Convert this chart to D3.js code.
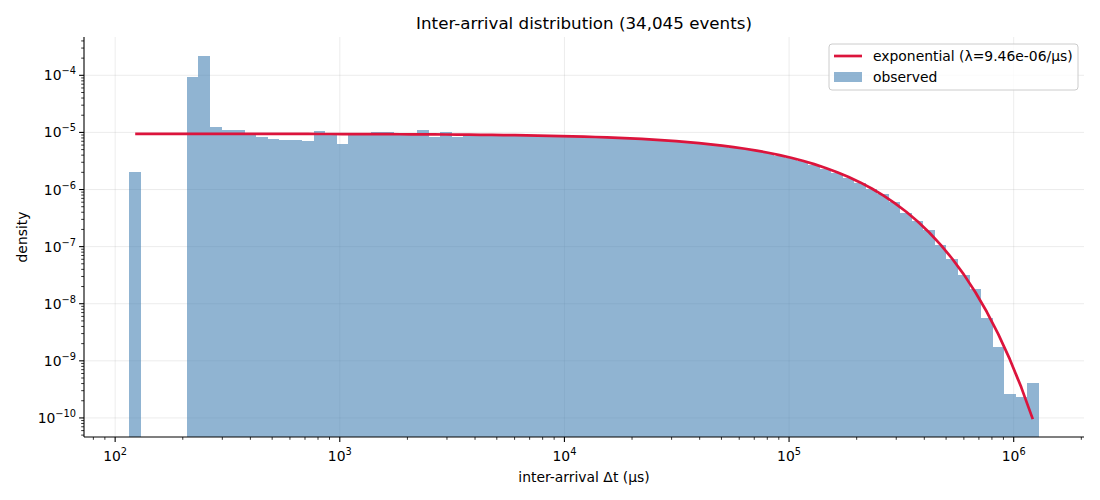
<!DOCTYPE html>
<html>
<head>
<meta charset="utf-8">
<script src="https://cdn.jsdelivr.net/npm/d3@7"></script>
<style>
  body { margin: 0; background: #fff; }
  svg { font-family: "DejaVu Sans", sans-serif; }
</style>
</head>
<body>
<svg id="chart" width="1100" height="500"></svg>
<script>
// ---------------- data ----------------
const titleText = "Inter-arrival distribution (34,045 events)";
const xLabel = "inter-arrival Δt (μs)";
const yLabel = "density";
const lambda = 9.46e-6;            // fitted rate (per μs)
const binLow = 115.8;              // first bin edge (μs)
const binHigh = 1.29e6;            // last bin edge (μs)
const nBins = 79;                  // log-spaced bins
const observed = [
  2.03e-6, 0, 0, 0, 0, 9.3e-5, 2.18e-4, 1.24e-5, 1.10e-5, 1.10e-5,
  9.3e-6, 8.3e-6, 7.7e-6, 7.4e-6, 7.4e-6, 7.1e-6, 1.06e-5, 9.6e-6, 6.3e-6, 8.9e-6,
  8.9e-6, 1.01e-5, 1.01e-5, 9.2e-6, 9.2e-6, 1.10e-5, 8.4e-6, 1.01e-5, 8.4e-6, 8.9e-6,
  8.9e-6, 8.85e-6, 8.8e-6, 8.8e-6, 8.7e-6, 8.6e-6, 8.5e-6, 8.45e-6, 8.35e-6, 8.25e-6,
  8.15e-6, 8.0e-6, 7.85e-6, 7.7e-6, 7.5e-6, 7.3e-6, 7.1e-6, 6.85e-6, 6.6e-6, 6.35e-6,
  6.05e-6, 5.75e-6, 5.4e-6, 5.05e-6, 4.7e-6, 4.3e-6, 3.9e-6, 3.5e-6, 3.1e-6, 2.72e-6,
  2.33e-6, 1.96e-6, 1.62e-6, 1.30e-6, 1.02e-6, 8.3e-7, 6.0e-7, 3.93e-7, 2.84e-7, 1.95e-7,
  1.07e-7, 6.1e-8, 3.2e-8, 1.8e-8, 5.7e-9, 1.77e-9, 2.6e-10, 2.35e-10, 4.1e-10
];
const xTickExps = [2, 3, 4, 5, 6];
const yTickExps = [-4, -5, -6, -7, -8, -9, -10];
const legendLabels = ["exponential (λ=9.46e-06/μs)", "observed"];

// ---------------- layout ----------------
const M = { left: 84, top: 37, width: 1000, height: 400 };
const svg = d3.select("#chart");

// bin edges (log spaced) and geometric centres
const lLo = Math.log10(binLow), lHi = Math.log10(binHigh);
const edges = d3.range(nBins + 1).map(i => Math.pow(10, lLo + (lHi - lLo) * i / nBins));
const bins = observed.map((v, i) => ({ x0: edges[i], x1: edges[i + 1], v }));
const centers = bins.map(b => Math.sqrt(b.x0 * b.x1));
const model = centers.map(c => ({ t: c, d: lambda * Math.exp(-lambda * c) }));

const span = lHi - lLo;
const x = d3.scaleLog()
  .domain([Math.pow(10, lLo - 0.05 * span), Math.pow(10, lHi + 0.05 * span)])
  .range([M.left, M.left + M.width]);
const y = d3.scaleLog()
  .domain([Math.pow(10, -10.334), Math.pow(10, -3.329)])
  .range([M.top + M.height, M.top]);

const bottom = M.top + M.height;

// grid
const gGrid = svg.append("g");
xTickExps.forEach(e => {
  gGrid.append("line")
    .attr("x1", x(Math.pow(10, e))).attr("x2", x(Math.pow(10, e)))
    .attr("y1", M.top).attr("y2", bottom)
    .attr("stroke", "#b0b0b0").attr("stroke-opacity", 0.3).attr("stroke-width", 0.8);
});
yTickExps.forEach(e => {
  gGrid.append("line")
    .attr("x1", M.left).attr("x2", M.left + M.width)
    .attr("y1", y(Math.pow(10, e))).attr("y2", y(Math.pow(10, e)))
    .attr("stroke", "#b0b0b0").attr("stroke-opacity", 0.3).attr("stroke-width", 0.8);
});

// bars
svg.append("g").selectAll("rect")
  .data(bins.filter(b => b.v > 0))
  .join("rect")
  .attr("x", b => x(b.x0))
  .attr("width", b => x(b.x1) - x(b.x0))
  .attr("y", b => y(b.v))
  .attr("height", b => bottom - y(b.v))
  .attr("fill", "#4682b4")
  .attr("fill-opacity", 0.6)
  .attr("shape-rendering", "crispEdges");

// model line
svg.append("path")
  .datum(model)
  .attr("fill", "none")
  .attr("stroke", "#dc143c")
  .attr("stroke-width", 2.7)
  .attr("stroke-linejoin", "round")
  .attr("stroke-linecap", "butt")
  .attr("d", d3.line().x(p => x(p.t)).y(p => y(p.d)));

// axes
const gx = svg.append("g");
gx.append("line").attr("x1", M.left).attr("x2", M.left + M.width)
  .attr("y1", bottom).attr("y2", bottom).attr("stroke", "#000").attr("stroke-width", 1.1);
const gy = svg.append("g");
gy.append("line").attr("x1", M.left).attr("x2", M.left)
  .attr("y1", M.top).attr("y2", bottom).attr("stroke", "#000").attr("stroke-width", 1.1);

// x ticks (major + minor)
const [xd0, xd1] = x.domain();
for (let e = Math.floor(Math.log10(xd0)); e <= Math.ceil(Math.log10(xd1)); e++) {
  for (let m = 1; m <= 9; m++) {
    const v = m * Math.pow(10, e);
    if (v < xd0 || v > xd1) continue;
    const px = x(v);
    gx.append("line").attr("x1", px).attr("x2", px)
      .attr("y1", bottom).attr("y2", bottom + (m === 1 ? 4.9 : 2.8))
      .attr("stroke", "#000").attr("stroke-width", m === 1 ? 1.1 : 0.8);
  }
}
xTickExps.forEach(e => {
  const t = gx.append("text")
    .attr("x", x(Math.pow(10, e))).attr("y", bottom + 24)
    .attr("text-anchor", "middle").attr("font-size", 13.9).attr("fill", "#000");
  t.append("tspan").text("10");
  t.append("tspan").attr("font-size", 9.8).attr("dy", -6).text(String(e));
});

// y ticks (major + minor)
const [yd0, yd1] = y.domain();
for (let e = Math.floor(Math.log10(yd0)); e <= Math.ceil(Math.log10(yd1)); e++) {
  for (let m = 1; m <= 9; m++) {
    const v = m * Math.pow(10, e);
    if (v < yd0 || v > yd1) continue;
    const py = y(v);
    gy.append("line").attr("x1", M.left).attr("x2", M.left - (m === 1 ? 4.9 : 2.8))
      .attr("y1", py).attr("y2", py)
      .attr("stroke", "#000").attr("stroke-width", m === 1 ? 1.1 : 0.8);
  }
}
yTickExps.forEach(e => {
  const t = gy.append("text")
    .attr("x", M.left - 8).attr("y", y(Math.pow(10, e)) + 5)
    .attr("text-anchor", "end").attr("font-size", 13.9).attr("fill", "#000");
  t.append("tspan").text("10");
  t.append("tspan").attr("font-size", 9.8).attr("dy", -6).text("\u2212" + String(-e));
});

// labels
svg.append("text").attr("x", M.left + M.width / 2).attr("y", 482)
  .attr("text-anchor", "middle").attr("font-size", 13.9).text(xLabel);
svg.append("text")
  .attr("transform", `translate(27,${M.top + M.height / 2}) rotate(-90)`)
  .attr("text-anchor", "middle").attr("font-size", 13.9).text(yLabel);
svg.append("text").attr("x", M.left + M.width / 2).attr("y", 29)
  .attr("text-anchor", "middle").attr("font-size", 16.7).text(titleText);

// legend
const lg = svg.append("g");
lg.append("rect").attr("x", 829).attr("y", 44).attr("width", 249).attr("height", 46)
  .attr("rx", 3).attr("fill", "#fff").attr("fill-opacity", 0.8)
  .attr("stroke", "#cccccc").attr("stroke-width", 1);
lg.append("line").attr("x1", 834).attr("x2", 862).attr("y1", 56).attr("y2", 56)
  .attr("stroke", "#dc143c").attr("stroke-width", 2.7);
lg.append("text").attr("x", 873).attr("y", 61).attr("font-size", 13.9).text(legendLabels[0]);
lg.append("rect").attr("x", 834).attr("y", 72).attr("width", 28).attr("height", 10)
  .attr("fill", "#4682b4").attr("fill-opacity", 0.6);
lg.append("text").attr("x", 873).attr("y", 82).attr("font-size", 13.9).text(legendLabels[1]);
</script>
</body>
</html>
